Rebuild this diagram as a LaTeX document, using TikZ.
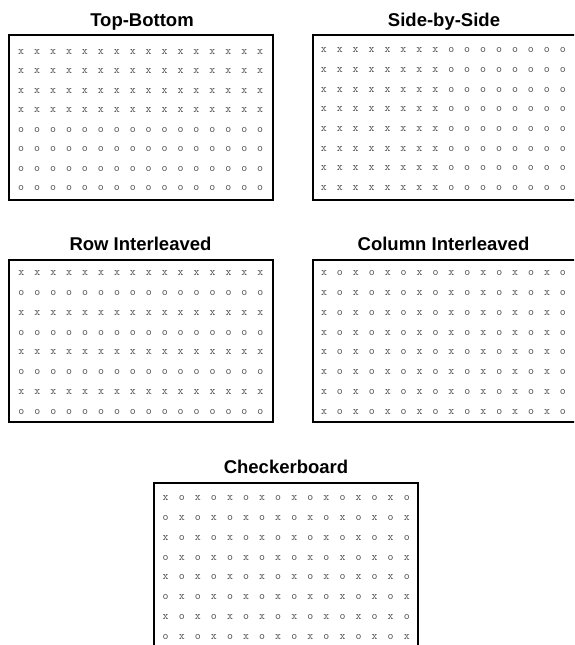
\documentclass[tikz,border=0pt]{standalone}
\usepackage{fontspec}
\setmainfont{Liberation Sans}
\definecolor{gx}{HTML}{505050}
\tikzset{
  frame/.style={draw=black, line width=2pt},
  paneltitle/.style={font=\fontsize{18.5}{20}\selectfont\bfseries, inner sep=0pt, anchor=base},
  glyph/.style={font=\ttfamily\fontsize{11.5}{11.5}\selectfont, inner sep=0pt, text=gx},
}
\newcommand\mygrid[6]{%
  \foreach \r in {0,...,7}{%
    \foreach \c in {0,...,15}{%
      \pgfmathtruncatemacro\isx{#6}%
      \node[glyph] (#1-\r-\c) at ({#2+\c*#4},{#3+\r*#5}) {\ifnum\isx=1 x\else o\fi};
    }%
  }%
}
\begin{document}
\begin{tikzpicture}[x=1pt,y=-1pt]
\useasboundingbox (0,0) rectangle (574,645);
\clip (0,0) rectangle (574,645);
% titles
\node[paneltitle] (t1) at (142,26.7) {Top-Bottom};
\node[paneltitle] (t2) at (444,26.7) {Side-by-Side};
\node[paneltitle] (t3) at (140.5,250.7) {Row Interleaved};
\node[paneltitle] (t4) at (443.5,250.7) {Column Interleaved};
\node[paneltitle] (t5) at (286,473.3) {Checkerboard};
% frames
\draw[frame] (8.8,34.5) rectangle (273,200);
\draw[frame] (312.7,34.5) rectangle (577,200);
\draw[frame] (8.8,259.7) rectangle (273,422);
\draw[frame] (312.5,259.7) rectangle (577,422);
\draw[frame] (154,482.5) rectangle (418,652);
% grids
\mygrid{tb}{21.2}{51.6}{15.93}{19.53}{\r<4}
\mygrid{sbs}{323.8}{50.5}{15.93}{19.65}{\c<8}
\mygrid{ri}{21.4}{273.3}{15.93}{19.77}{mod(\r,2)==0}
\mygrid{ci}{324}{273.3}{15.93}{19.77}{mod(\c,2)==0}
\mygrid{cb}{165.7}{498.3}{16.07}{19.77}{mod(\r+\c,2)==0}
\end{tikzpicture}
\end{document}
